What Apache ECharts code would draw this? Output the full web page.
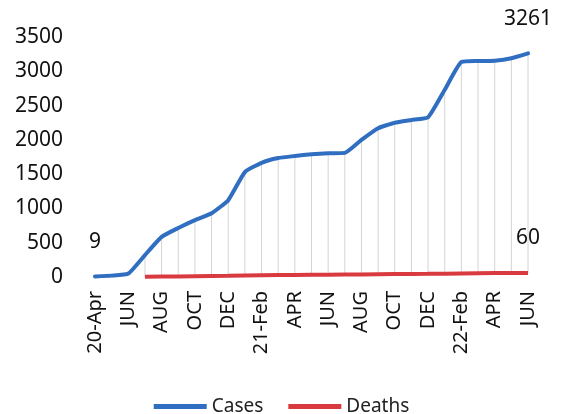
<!DOCTYPE html>
<html>
<head>
<meta charset="utf-8">
<script src="https://cdn.jsdelivr.net/npm/echarts@6/dist/echarts.min.js"></script>
<style>
  html, body { margin: 0; padding: 0; background: #fff; }
  #chart { width: 563px; height: 414px; }
</style>
</head>
<body>
<div id="chart"></div>
<script>
// monthly, Apr 2020 .. Jun 2022 (labels shown every other month)
var months = ["20-Apr", "MAY", "JUN", "JUL", "AUG", "SEP", "OCT", "NOV", "DEC",
  "21-Jan", "21-Feb", "MAR", "APR", "MAY", "JUN", "JUL", "AUG", "SEP", "OCT", "NOV", "DEC",
  "22-Jan", "22-Feb", "MAR", "APR", "MAY", "JUN"];
var cases = [9, 20, 50, 320, 585, 715, 830, 930, 1120,
  1530, 1665, 1735, 1765, 1790, 1805, 1810, 2000, 2170, 2250, 2290, 2330,
  2730, 3135, 3150, 3155, 3190, 3261];
// deaths reported from July 2020
var deaths = [null, null, null, 3, 6, 9, 12, 15, 18,
  22, 25, 28, 30, 32, 34, 36, 38, 40, 42, 44, 46,
  49, 52, 55, 57, 59, 60];
var yTicks = [0, 3500, 500];

var font = "'Noto Sans', sans-serif";
var chart = echarts.init(document.getElementById("chart"));

// points that carry a value label
function labelled(arr, idx) {
  return arr.map(function(v, i) {
    if (idx.indexOf(i) < 0) return v;
    return {
      value: v,
      label: { show: true, position: "top", distance: 24, fontSize: 21, color: "#111", fontFamily: font }
    };
  });
}

// high-low lines between deaths and cases
var hiLo = [];
cases.forEach(function(c, i) {
  if (deaths[i] != null) hiLo.push([i, deaths[i], c]);
});

var option = {
  backgroundColor: "#fff",
  animation: false,
  textStyle: { fontFamily: font },
  grid: { left: 95, right: 35, top: 37, bottom: 137 },
  legend: {
    top: 392,
    left: "center",
    data: ["Cases", "Deaths"],
    icon: "rect",
    itemWidth: 53,
    itemHeight: 5,
    itemGap: 25,
    textStyle: { fontSize: 19, color: "#222", fontFamily: font }
  },
  xAxis: {
    type: "category",
    data: months,
    boundaryGap: false,
    axisLine: { show: false },
    axisTick: { show: false },
    axisLabel: { interval: 1, rotate: 90, margin: 14, fontSize: 20, color: "#111", fontFamily: font }
  },
  yAxis: {
    type: "value",
    min: yTicks[0],
    max: yTicks[1],
    interval: yTicks[2],
    splitLine: { show: false },
    axisLabel: {
      margin: 32, fontSize: 21, color: "#111", fontFamily: font,
      formatter: function(v) { return String(v); }
    }
  },
  series: [
    {
      type: "custom",
      silent: true,
      z: 1,
      data: hiLo,
      renderItem: function(params, api) {
        var lo = api.coord([api.value(0), api.value(1)]);
        var hi = api.coord([api.value(0), api.value(2)]);
        return {
          type: "line",
          shape: { x1: lo[0], y1: lo[1], x2: hi[0], y2: hi[1] },
          style: { stroke: "#d4d4d4", lineWidth: 1 }
        };
      }
    },
    {
      name: "Cases",
      type: "line",
      z: 3,
      data: labelled(cases, [0, cases.length - 1]),
      showSymbol: true,
      symbol: "circle",
      symbolSize: 0.1,
      smooth: 0.15,
      color: "#2f6ec1",
      lineStyle: { width: 4, color: "#2f6ec1", cap: "round", join: "round" }
    },
    {
      name: "Deaths",
      type: "line",
      z: 2,
      data: labelled(deaths, [deaths.length - 1]),
      showSymbol: true,
      symbol: "circle",
      symbolSize: 0.1,
      color: "#d93a3f",
      lineStyle: { width: 4, color: "#d93a3f" }
    }
  ]
};

chart.setOption(option);
</script>
</body>
</html>
